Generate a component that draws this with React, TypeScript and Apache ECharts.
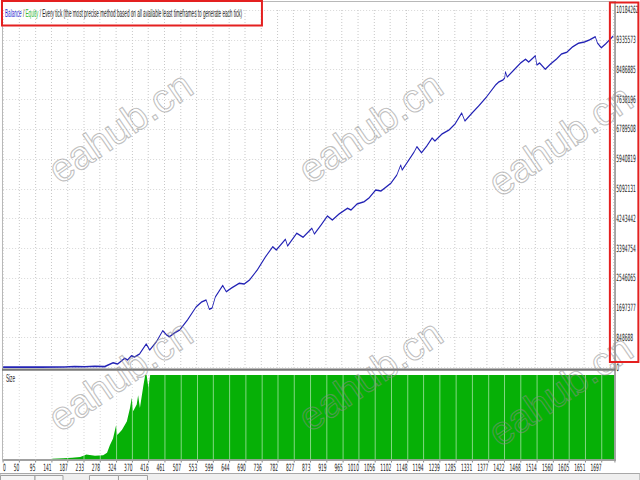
import React, { useEffect, useRef } from 'react';
import * as echarts from 'echarts';

// The reference screenshot is squeezed horizontally; the chart is laid out wide and scaled.
const W = 1455;
const S = 640 / W;

const TITLE_BALANCE = 'Balance';
const TITLE_EQUITY = 'Equity';
const TITLE_REST = 'Every tick (the most precise method based on all available least timeframes to generate each tick)';
const SIZE_LABEL = 'Size';
const WATERMARK = 'eahub.cn';

const X_TICKS = ['0', '50', '95', '141', '187', '233', '278', '324', '370', '416', '461', '507', '553', '599', '644', '690', '736', '782', '827', '873', '919', '965', '1010', '1056', '1102', '1148', '1194', '1239', '1285', '1331', '1377', '1422', '1468', '1514', '1560', '1605', '1651', '1697'];
const Y_TICKS = ['0', '848688', '1697377', '2546065', '3394754', '4243442', '5092131', '5940819', '6789508', '7638196', '8486885', '9335573', '10184262'];
const X_STEP = 45.76;
const TRADES = 1731;
const Y_STEP = 848688.5;
const Y_MAX = 10184262;
const SIZE_MAX = 100;

const BAL_TRADE = [0, 105, 175, 203, 232, 260, 288, 312, 325, 345, 353, 364, 373, 387, 406, 416, 435, 453, 464, 472, 486, 501, 523, 548, 563, 576, 585, 593, 602, 623, 633, 648, 670, 684, 699, 721, 744, 765, 775, 801, 807, 833, 851, 876, 883, 902, 920, 934, 953, 977, 987, 1004, 1024, 1038, 1057, 1072, 1083, 1100, 1117, 1128, 1132, 1151, 1166, 1174, 1187, 1202, 1217, 1225, 1245, 1265, 1282, 1301, 1310, 1333, 1349, 1372, 1397, 1406, 1418, 1423, 1425, 1430, 1449, 1468, 1482, 1491, 1510, 1514, 1522, 1538, 1553, 1570, 1584, 1599, 1615, 1632, 1649, 1663, 1680, 1686, 1697, 1709, 1720, 1731];
const BAL_VALUE = [10000, 10000, 15000, 30000, 20000, 35000, 25000, 137000, 100000, 262000, 214000, 336000, 299000, 385000, 669000, 499000, 735000, 1048000, 926000, 877000, 983000, 1068000, 1353000, 1732000, 1866000, 1923000, 1658000, 1695000, 2008000, 2336000, 2159000, 2265000, 2399000, 2379000, 2493000, 2778000, 3148000, 3441000, 3347000, 3652000, 3461000, 3823000, 3709000, 3966000, 3803000, 4060000, 4316000, 4202000, 4373000, 4535000, 4487000, 4658000, 4723000, 4829000, 5057000, 5028000, 5114000, 5248000, 5484000, 5769000, 5627000, 5911000, 6139000, 6290000, 6119000, 6310000, 6538000, 6453000, 6652000, 6766000, 6937000, 7250000, 7022000, 7279000, 7450000, 7715000, 8048000, 8134000, 8191000, 8248000, 8427000, 8276000, 8476000, 8675000, 8780000, 8703000, 8883000, 8618000, 8675000, 8495000, 8646000, 8789000, 8931000, 8980000, 9131000, 9236000, 9273000, 9330000, 9424000, 9245000, 9111000, 9216000, 9330000, 9444000];

const SIZE_TRADE = [133, 138, 170, 195, 218, 236, 240, 260, 283, 294, 302, 311, 320, 323, 336, 350, 359, 364, 368, 378, 382, 387, 397, 402, 406, 411, 416, 1731];
const SIZE_VALUE = [0, 1, 1.5, 2, 3, 6, 5.5, 4.5, 5, 8, 17, 25, 41, 29, 35, 45, 61, 73, 57, 65, 76, 61, 88, 100, 100, 85, 100, 100];

const FONT = 'DejaVu Sans';
const TFONT = 'Liberation Sans';

function watermark(cx: number, cy: number) {
  return {
    type: 'text',
    x: cx,
    y: cy,
    rotation: 0.6,
    z: 90,
    silent: true,
    style: {
      text: WATERMARK,
      font: `40px "${TFONT}"`,
      align: 'center',
      verticalAlign: 'middle',
      fill: 'rgba(255,255,255,0)',
      stroke: 'rgba(140,140,140,0.55)',
      lineWidth: 1.1,
    },
  };
}

export default function App() {
  const ref = useRef<HTMLDivElement>(null);

  useEffect(() => {
    if (!ref.current) return;
    const chart = echarts.init(ref.current, undefined, { renderer: 'svg' });
    const dotV = { color: '#c8c8c8', width: 1 / S, type: [1, 2] };
    const dotH = { color: '#c8c8c8', width: 1, type: [1 / S, 2 / S] };
    const left = 3.1 / S;
    const right = (640 - 615) / S;

    const overlay: any[] = [
      // frame
      { type: 'rect', z: 80, shape: { x: 2.5, y: 1.5, width: 612.5, height: 458.5 }, style: { fill: 'none', stroke: '#b8b8b8', lineWidth: 1 } },
      { type: 'line', z: 81, shape: { x1: 615.2, y1: 1, x2: 615.2, y2: 461 }, style: { stroke: '#9c9c9c', lineWidth: 1.6 } },
      { type: 'rect', z: 81, shape: { x: 2, y: 368.4, width: 613.5, height: 2.4 }, style: { fill: '#777777' } },
      // tab bar
      { type: 'rect', z: 80, shape: { x: 0, y: 473.5, width: 640, height: 7 }, style: { fill: '#efefef', stroke: '#a8a8a8', lineWidth: 1 } },
      { type: 'rect', z: 81, shape: { x: 0.5, y: 475.5, width: 34.5, height: 6 }, style: { fill: '#f6f6f6', stroke: '#a0a0a0', lineWidth: 1 } },
      { type: 'rect', z: 81, shape: { x: 35, y: 475.5, width: 28, height: 6 }, style: { fill: '#f6f6f6', stroke: '#a0a0a0', lineWidth: 1 } },
      { type: 'rect', z: 81, shape: { x: 89.5, y: 475.5, width: 29, height: 6 }, style: { fill: '#f6f6f6', stroke: '#a0a0a0', lineWidth: 1 } },
      { type: 'rect', z: 81, shape: { x: 118.5, y: 475.5, width: 29, height: 6 }, style: { fill: '#f6f6f6', stroke: '#a0a0a0', lineWidth: 1 } },
      // title (squeezed like the screenshot)
      {
        type: 'text', z: 85, x: 5, y: 13.5, scaleX: S,
        style: {
          text: `{b|${TITLE_BALANCE}} / {g|${TITLE_EQUITY}} / ${TITLE_REST}`,
          font: `10.5px "${TFONT}"`,
          fill: '#1e1e1e',
          verticalAlign: 'middle',
          rich: {
            b: { fill: '#2b2bd0', font: `10.5px "${TFONT}"` },
            g: { fill: '#2fb82f', font: `10.5px "${TFONT}"` },
          },
        },
      },
      {
        type: 'text', z: 85, x: 6, y: 378.5, scaleX: S,
        style: { text: SIZE_LABEL, font: `10.5px "${TFONT}"`, fill: '#1e1e1e', verticalAlign: 'middle' },
      },
      // watermarks
      watermark(120, 127), watermark(370, 127), watermark(560, 140),
      watermark(120, 375), watermark(370, 375), watermark(560, 390),
      // red annotation boxes
      { type: 'rect', z: 95, shape: { x: 2, y: 1, width: 260, height: 24.5 }, style: { fill: 'none', stroke: '#e42020', lineWidth: 2 } },
      { type: 'rect', z: 95, shape: { x: 610, y: 2.5, width: 28.5, height: 359.5 }, style: { fill: 'none', stroke: '#e42020', lineWidth: 2 } },
    ];

    const option: any = {
      animation: false,
      backgroundColor: '#ffffff',
      grid: [
        { left, right, top: 10, bottom: 480 - 367.5 },
        { left, right, top: 375, bottom: 480 - 459.5 },
      ],
      xAxis: [
        {
          gridIndex: 0, type: 'value', min: 0, max: TRADES, interval: X_STEP,
          axisLine: { show: false }, axisTick: { show: false }, axisLabel: { show: false },
          splitLine: { show: true, lineStyle: dotV },
        },
        {
          gridIndex: 1, type: 'value', min: 0, max: TRADES, interval: X_STEP,
          axisLine: { show: true, lineStyle: { color: '#8a8a8a', width: 2 } },
          axisTick: { show: true, length: 3, lineStyle: { color: '#8a8a8a', width: 1 / S } },
          axisLabel: {
            show: true, margin: 3, fontSize: 10, fontFamily: FONT, color: '#1c1c1c',
            align: 'right', alignMinLabel: 'left',
            formatter: (_v: number, i: number) => X_TICKS[i] ?? '',
          },
          splitLine: { show: true, lineStyle: dotV },
        },
        {
          gridIndex: 1, type: 'value', min: 0, max: TRADES, interval: X_STEP, position: 'bottom', z: 5,
          axisLine: { show: false }, axisTick: { show: false }, axisLabel: { show: false },
          splitLine: { show: true, lineStyle: { color: 'rgba(255,255,255,0.5)', width: 1 / S } },
        },
      ],
      yAxis: [
        {
          gridIndex: 0, type: 'value', position: 'right', min: 0, max: Y_MAX, interval: Y_STEP,
          axisLine: { show: false }, axisTick: { show: false },
          axisLabel: {
            margin: 3 / S, fontSize: 10, fontFamily: FONT, color: '#1c1c1c',
            formatter: (_v: number, i: number) => Y_TICKS[i] ?? '',
          },
          splitLine: { show: true, lineStyle: dotH },
        },
        { gridIndex: 1, type: 'value', min: 0, max: SIZE_MAX, show: false },
      ],
      series: [
        {
          name: 'Balance', type: 'line', xAxisIndex: 0, yAxisIndex: 0, z: 3,
          showSymbol: false, symbol: 'none',
          lineStyle: { color: '#2323b5', width: 1.6 },
          data: BAL_TRADE.map((t, i) => [t, BAL_VALUE[i]]),
        },
        {
          name: 'Size', type: 'line', xAxisIndex: 1, yAxisIndex: 1, z: 2,
          showSymbol: false, symbol: 'none',
          lineStyle: { width: 0, color: '#06b006' },
          areaStyle: { color: '#06b006', opacity: 1 },
          data: SIZE_TRADE.map((t, i) => [t, SIZE_VALUE[i]]),
        },
      ],
      graphic: [
        { type: 'group', x: 0, y: 0, scaleX: 1 / S, z: 80, children: overlay },
      ],
    };

    chart.setOption(option);
    return () => chart.dispose();
  }, []);

  return (
    <div style={{ position: 'fixed', left: 0, top: 0, width: 640, height: 480, overflow: 'hidden', background: '#fff' }}>
      <div ref={ref} style={{ width: W, height: 480, transform: `scaleX(${S})`, transformOrigin: '0 0' }} />
    </div>
  );
}
